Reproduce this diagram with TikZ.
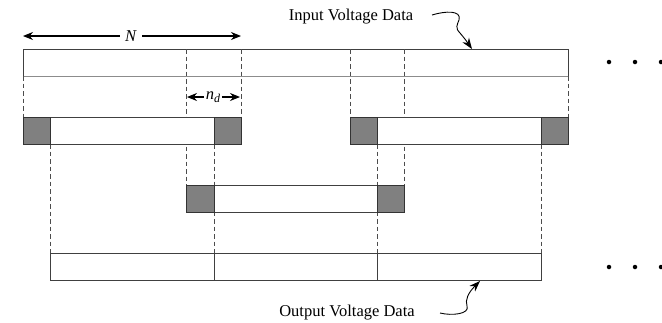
\documentclass[tikz,border=0pt]{standalone}
\usepackage{fontspec}
\setmainfont{Liberation Serif}
\usetikzlibrary{arrows.meta}
\begin{document}
\begin{tikzpicture}[x=1pt,y=-1pt,
  frame/.style={draw=black!75,line width=1pt},
  shade/.style={draw=black!80,fill=black!50,line width=1pt},
  guide/.style={draw=black!70,dashed,dash pattern=on 4.5pt off 3pt,line width=0.7pt},
  tip/.style={-{Stealth[length=10pt,width=8pt]},line width=1.1pt},
  curly/.style={-{Stealth[length=11pt,width=8pt]},line width=0.9pt},
  lbl/.style={font=\fontsize{16.5}{18}\selectfont,inner sep=1pt},
  dot/.style={circle,fill=black,inner sep=0pt,minimum size=4.5pt}]
\useasboundingbox (0,0) rectangle (662,322);
% input bar
\draw[frame] (23,76) -- (23,49) -- (568,49) -- (568,76);
\draw[draw=black!45,line width=1pt] (23,76) -- (568,76);
\coordinate (inTop) at (472,49);
% dashed guides
\draw[guide] (23,76) -- (23,117);
\draw[guide] (568,76) -- (568,117);
\draw[guide] (186,49) -- (186,185);
\draw[guide] (241,49) -- (241,117);
\draw[guide] (350,49) -- (350,117);
\draw[guide] (404,49) -- (404,185);
\draw[guide] (50,144) -- (50,253);
\draw[guide] (214,144) -- (214,253);
\draw[guide] (377,144) -- (377,253);
\draw[guide] (541,144) -- (541,253);
% row 1 windows
\draw[frame,fill=white] (23,117) rectangle (241,144);
\draw[shade] (23,117) rectangle (50,144);
\draw[shade] (214,117) rectangle (241,144);
\draw[frame,fill=white] (350,117) rectangle (568,144);
\draw[shade] (350,117) rectangle (377,144);
\draw[shade] (541,117) rectangle (568,144);
% row 2 window
\draw[frame,fill=white] (186,185) rectangle (404,212);
\draw[shade] (186,185) rectangle (214,212);
\draw[shade] (377,185) rectangle (404,212);
% output bar
\draw[frame] (50,253) rectangle (541,280);
\draw[frame] (214,253) -- (214,280);
\draw[frame] (377,253) -- (377,280);
\coordinate (outBot) at (480,281);
% dimensions
\node[lbl,inner sep=5pt] (N) at (131,36) {\textit{N}};
\coordinate (nL) at (23,36);
\coordinate (nR) at (241,36);
\draw[tip] (N.west) -- (nL);
\draw[tip] (N.east) -- (nR);
\node[lbl,inner sep=1.5pt] (nd) at (213,97) {\textit{n}\raisebox{-0.35ex}{\fontsize{12}{13}\selectfont\textit{d}}};
\coordinate (dL) at (187,97);
\coordinate (dR) at (240,97);
\draw[tip] (nd.west) -- (dL);
\draw[tip] (nd.east) -- (dR);
% labels
\node[lbl] (inLbl) at (351,17) {Input Voltage Data};
\node[lbl] (outLbl) at (347,313) {Output Voltage Data};
\draw[curly] (432,15) .. controls (445,11) and (462,10) .. (459,20)
  .. controls (457,25) and (455,28) .. (460,33) .. controls (465,39) .. (inTop);
\draw[curly] (440,313) .. controls (452,316) and (470,314) .. (467,306)
  .. controls (465,300) and (468,293) .. (outBot);
% continuation dots
\node[dot] (a1) at (609,62) {};
\node[dot] (a2) at (635,62) {};
\node[dot] (a3) at (661,62) {};
\node[dot] (b1) at (609,267) {};
\node[dot] (b2) at (635,267) {};
\node[dot] (b3) at (661,267) {};
\end{tikzpicture}
\end{document}
